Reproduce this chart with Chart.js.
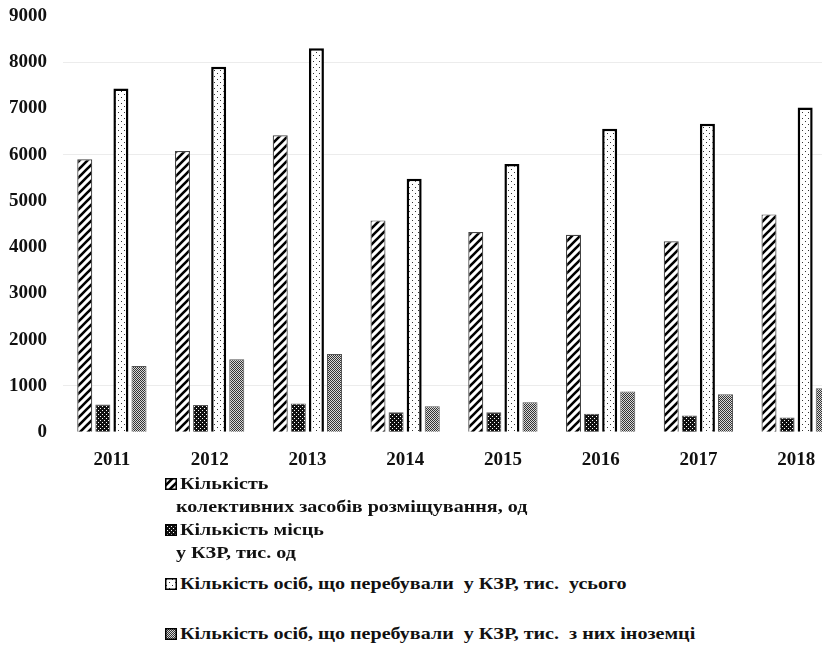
<!DOCTYPE html>
<html><head><meta charset="utf-8">
<script src="https://cdn.jsdelivr.net/npm/chart.js@4.4.0/dist/chart.umd.min.js"></script>
<style>
html,body{margin:0;padding:0;background:#fff;overflow:hidden;width:822px;height:648px;}
#wrap{position:relative;width:822px;height:648px;overflow:hidden;background:#fff;}
#c{position:absolute;left:0;top:0;}
.lg{position:absolute;font-family:'Liberation Serif','DejaVu Serif',serif;font-weight:bold;font-size:17px;color:#111;white-space:pre;line-height:20px;transform-origin:0 50%;}
.sw{position:absolute;}
</style></head>
<body><div id="wrap"><canvas id="c" width="850" height="479"></canvas><div id="legend"></div></div>
<script>
// ---- data ----
const years = ['2011','2012','2013','2014','2015','2016','2017','2018'];
const seriesNames = [
  ['Кількість', 'колективних засобів розміщування, од'],
  ['Кількість місць', 'у КЗР, тис. од'],
  ['Кількість осіб, що перебували  у КЗР, тис.  усього'],
  ['Кількість осіб, що перебували  у КЗР, тис.  з них іноземці']
];
const kzrCount       = [5900, 6080, 6420, 4580, 4330, 4270, 4130, 4710];
const placesCount    = [600, 590, 620, 430, 430, 400, 360, 320];
const visitorsTotal  = [7430, 7900, 8300, 5480, 5800, 6560, 6670, 7020];
const visitorsForeign= [1430, 1580, 1690, 560, 650, 880, 820, 950];
const yTickValues    = [0,1000,2000,3000,4000,5000,6000,7000,8000,9000];
const gridShown      = [1000, 6000, 8000];

// ---- pattern tiles ----
function tile(w,h,draw){const c=document.createElement('canvas');c.width=w;c.height=h;draw(c.getContext('2d'),w,h);return c;}
const tiles = [
  tile(8,8,(x)=>{x.fillStyle='#fff';x.fillRect(0,0,8,8);x.strokeStyle='#000';x.lineWidth=2.6;x.beginPath();
    x.moveTo(-2,10);x.lineTo(10,-2);x.moveTo(-2,2);x.lineTo(2,-2);x.moveTo(6,10);x.lineTo(10,6);x.stroke();}),
  tile(4,4,(x)=>{x.fillStyle='#111';x.fillRect(0,0,4,4);x.fillStyle='#fff';x.fillRect(0,0,1,1);x.fillRect(2,2,1,1);}),
  tile(6,6,(x)=>{x.fillStyle='#fff';x.fillRect(0,0,6,6);x.fillStyle='#333';x.fillRect(1,1,1,1);x.fillRect(4,4,1,1);}),
  tile(2,2,(x)=>{x.fillStyle='#d8d8d8';x.fillRect(0,0,2,2);x.fillStyle='#333';x.fillRect(0,0,1,1);x.fillRect(1,1,1,1);})
];
const borders = ['#444','#555','#000','#555'];
const borderW = [1.2,1,2.5,1];

const canvas = document.getElementById('c');
const ctx = canvas.getContext('2d');
const pats = tiles.map(t=>ctx.createPattern(t,'repeat'));
const values = [kzrCount, placesCount, visitorsTotal, visitorsForeign];

const font = 'Liberation Serif';
new Chart(ctx,{
  type:'bar',
  data:{labels:years, datasets: values.map((v,i)=>({
    label: seriesNames[i].join(' '), data:v, backgroundColor:pats[i], borderColor:borders[i], borderWidth:borderW[i],
    barPercentage:0.83, categoryPercentage:0.74
  }))},
  options:{
    responsive:false, animation:false, devicePixelRatio:1,
    layout:{padding:{top:16,right:5,left:0,bottom:0}},
    plugins:{legend:{display:false}, tooltip:{enabled:false}},
    scales:{
      x:{grid:{display:false}, border:{display:false},
         ticks:{color:'#111', font:{family:font, weight:'bold', size:19}, padding:8}},
      y:{min:0,max:9000, border:{display:false},
         afterBuildTicks:(s)=>{s.ticks=yTickValues.map(v=>({value:v}));},
         ticks:{color:'#111', font:{family:font, weight:'bold', size:19}, padding:2, callback:(v)=>String(v)},
         grid:{drawTicks:true, tickLength:14, tickColor:'rgba(0,0,0,0)',
               color:(c)=> gridShown.includes(c.tick && c.tick.value) ? '#ececec' : 'rgba(0,0,0,0)'},
         afterFit:(s)=>{s.width=63;}}
    }
  }
});

// ---- HTML legend ----
const lg = document.getElementById('legend');
const rows = [
  {sw:0, text:seriesNames[0][0], x:180, y:484},
  {text:seriesNames[0][1], x:176, y:507},
  {sw:1, text:seriesNames[1][0], x:180, y:530},
  {text:seriesNames[1][1], x:176, y:553},
  {sw:2, text:seriesNames[2][0], x:180, y:584},
  {sw:3, text:seriesNames[3][0], x:180, y:634}
];
rows.forEach(r=>{
  const d=document.createElement('div');d.className='lg';d.textContent=r.text;
  d.style.left=r.x+'px';d.style.top=(r.y-10)+'px';d.style.transform='scaleX(1.18)';lg.appendChild(d);
  if(r.sw!==undefined){
    const c=document.createElement('canvas');c.width=12;c.height=12;c.className='sw';
    c.style.left='165px';c.style.top=(r.y-6)+'px';
    const x=c.getContext('2d');x.fillStyle=x.createPattern(tiles[r.sw],'repeat');x.fillRect(0,0,12,12);
    x.strokeStyle='#000';x.lineWidth=1.5;x.strokeRect(0.75,0.75,10.5,10.5);
    lg.appendChild(c);
  }
});
</script>
</body></html>
